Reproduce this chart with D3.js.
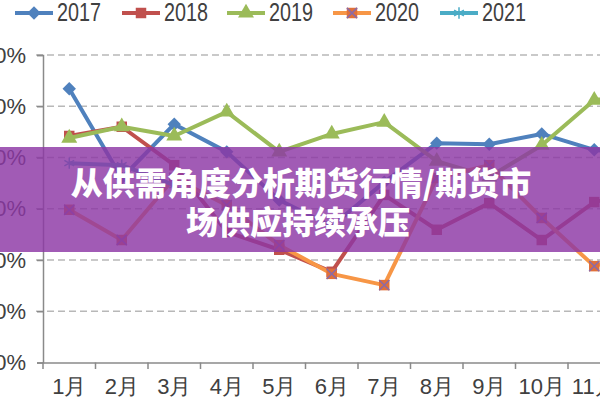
<!DOCTYPE html>
<html><head><meta charset="utf-8">
<script src="https://cdn.jsdelivr.net/npm/d3@7"></script>
<style>html,body{margin:0;padding:0;background:#fff;overflow:hidden}</style>
</head><body>
<svg id="c" width="600" height="400"></svg>
<script>
const months = ["1月","2月","3月","4月","5月","6月","7月","8月","9月","10月","11月","12月"];
const yTicks = [10,20,30,40,50,60,70];
const years = ["2017","2018","2019","2020","2021"];
const s2017 = [63.4,46.0,56.5,51.1,41.7,36.6,45.2,52.8,52.6,54.6,51.5,50.5];
const s2018 = [54.2,56.0,48.5,35.5,32.0,27.7,42.7,35.9,41.1,33.9,41.3,43.7];
const s2019 = [53.8,56.0,54.2,58.9,51.1,54.6,56.9,49.3,46.2,52.4,61.2,62.8];
const s2020 = [39.8,33.9,46.0,40.7,32.9,27.3,25.1,46.0,48.5,38.2,28.8,32.0];
const s2021 = [48.9,48.5,44.6];
const colors = ["#4F81BD","#C0504D","#9BBB59","#F79646","#4BACC6"];
const title1 = "从供需角度分析期货行情/期货市";
const title2 = "场供应持续承压";

const series = [s2017,s2018,s2019,s2020,s2021];
const svg = d3.select("#c");
const x = d3.scaleBand().domain(months).range([43, 673]);
const y = d3.scaleLinear().domain([10,70]).range([362.5, 55]);

// gridlines
svg.append("g").selectAll("line").data(yTicks.slice(1)).join("line")
  .attr("x1", 36).attr("x2", 673).attr("y1", d=>y(d)).attr("y2", d=>y(d))
  .attr("stroke", "#b8b8b8").attr("stroke-width", 1.5).attr("stroke-dasharray","7,4");

// axes
const xa = svg.append("g").attr("transform","translate(0,362.5)")
  .call(d3.axisBottom(x).tickSize(0).tickPadding(16));
xa.select(".domain").attr("stroke","#8a8a8a").attr("stroke-width",1.5);
xa.selectAll("text").attr("font-family","Liberation Sans, Arial, sans-serif").attr("font-size",22).attr("fill","#404040");
svg.append("g").selectAll("line").data(months).join("line")
  .attr("x1", d=>x(d)).attr("x2", d=>x(d)).attr("y1",362.5).attr("y2",369)
  .attr("stroke","#8a8a8a").attr("stroke-width",1.5);

const ya = svg.append("g").attr("transform","translate(43,0)")
  .call(d3.axisLeft(y).tickValues(yTicks).tickSize(6).tickPadding(10).tickFormat(d=>d+"%"));
ya.select(".domain").attr("stroke","#8a8a8a").attr("stroke-width",1.5);
ya.selectAll(".tick line").attr("stroke","#8a8a8a").attr("stroke-width",1.5);
ya.selectAll("text").attr("font-family","Liberation Sans, Arial, sans-serif").attr("font-size",22).attr("fill","#404040")
  .attr("x",-17);

const cx = (i)=> x(months[i]) + x.bandwidth()/2;
const line = d3.line().x((d,i)=>cx(i)).y(d=>y(d));

function marker(g, k, px, py, c) {
  if (k===0) {
    g.append("path").attr("d", d3.symbol(d3.symbolSquare, 90)()).attr("transform",`translate(${px},${py}) rotate(45)`).attr("fill",c);
  } else if (k===1) {
    g.append("path").attr("d", d3.symbol(d3.symbolSquare, 110)()).attr("transform",`translate(${px},${py})`).attr("fill",c);
  } else if (k===2) {
    g.append("path").attr("d", d3.symbol(d3.symbolTriangle, 110)()).attr("transform",`translate(${px},${py})`).attr("fill",c);
  } else if (k===3) {
    g.append("path").attr("d", d3.symbol(d3.symbolSquare, 110)()).attr("transform",`translate(${px},${py})`).attr("fill","#E0703A");
    g.append("path").attr("d", d3.symbol(d3.symbolTimes, 70)()).attr("transform",`translate(${px},${py})`).attr("fill","none").attr("stroke","#8a6aa8").attr("stroke-width",1.5);
  } else {
    g.append("path").attr("d", d3.symbol(d3.symbolAsterisk, 90)()).attr("transform",`translate(${px},${py})`).attr("fill","none").attr("stroke",c).attr("stroke-width",1.5);
  }
}

series.forEach((s,k)=>{
  const g = svg.append("g");
  g.append("path").datum(s).attr("d", line).attr("fill","none")
    .attr("stroke", colors[k]).attr("stroke-width", 4).attr("stroke-linejoin","round");
  s.forEach((v,i)=> marker(g, k, cx(i), y(v), colors[k]));
});

// legend
const lx = [15, 122, 227, 333, 440];
years.forEach((yr,k)=>{
  const g = svg.append("g");
  g.append("line").attr("x1",lx[k]).attr("x2",lx[k]+38).attr("y1",13).attr("y2",13)
    .attr("stroke",colors[k]).attr("stroke-width",4);
  marker(g, k, lx[k]+19, 13, colors[k]);
  g.append("text").attr("x", lx[k]+42).attr("y", 12).attr("dominant-baseline","central")
    .attr("font-family","Liberation Sans, Arial, sans-serif").attr("font-size",25).attr("fill","#404040")
    .attr("textLength",44).attr("lengthAdjust","spacingAndGlyphs").text(yr);
});

// overlay band + title
svg.append("rect").attr("x",0).attr("y",147).attr("width",600).attr("height",105)
  .attr("fill","rgb(140,55,165)").attr("fill-opacity",0.82);
const tf = "'Noto Sans CJK SC', sans-serif";
svg.append("text").attr("x",301).attr("y",181).attr("text-anchor","middle").attr("dominant-baseline","central")
  .attr("font-family",tf).attr("font-weight",900).attr("font-size",32).attr("fill","#fff").text(title1);
svg.append("text").attr("x",298).attr("y",220).attr("text-anchor","middle").attr("dominant-baseline","central")
  .attr("font-family",tf).attr("font-weight",900).attr("font-size",32).attr("fill","#fff").text(title2);
</script>
</body></html>
